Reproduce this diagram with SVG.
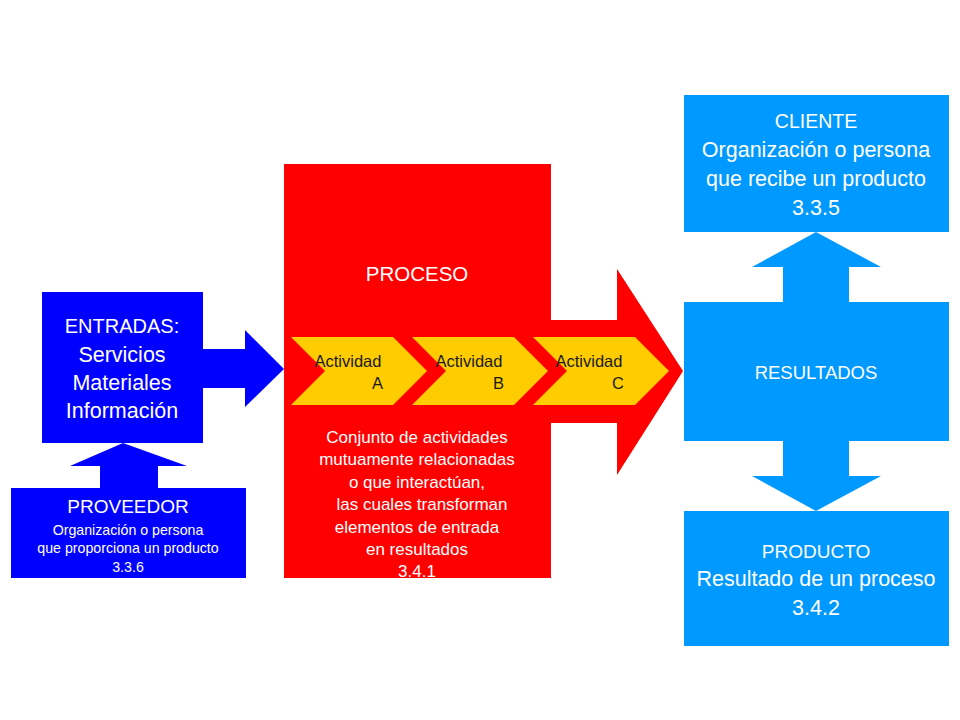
<svg xmlns="http://www.w3.org/2000/svg" width="960" height="720" viewBox="0 0 960 720">
<style>
text{font-family:"Liberation Sans",Arial,sans-serif;fill:#fff;text-anchor:middle}
.dk{fill:#1a1a1a;font-size:16.5px}
.blue{fill:#0000ff}
.lb{fill:#0099ff}
.red{fill:#ff0000}
.yel{fill:#ffcc00}
</style>
<rect width="960" height="720" fill="#fff"/>
<g id="connectors">
  <polygon class="blue" points="202,349 245,349 245,330 284,369 245,407 245,388 202,388"/>
  <polygon class="blue" points="100,489 100,466 70,466 123,443 187,466 158,466 158,489"/>
  <polygon class="lb" points="783,303 783,267 752,267 816,232 881,267 849,267 849,303"/>
  <polygon class="lb" points="783,440 783,476 752,476 816,511 881,476 849,476 849,440"/>
</g>
<g id="proceso">
  <rect class="red" x="284" y="164" width="267" height="414"/>
  <polygon class="red" points="550,320 617,320 617,269 683,371 617,475 617,423 550,423"/>
  <text x="417" y="281" font-size="20.5">PROCESO</text>
  <g font-size="17">
    <text x="417" y="443">Conjunto de actividades</text>
    <text x="417" y="465">mutuamente relacionadas</text>
    <text x="417" y="488">o que interactúan,</text>
    <text x="422" y="510">las cuales transforman</text>
    <text x="417" y="533">elementos de entrada</text>
    <text x="417" y="555">en resultados</text>
    <text x="417" y="577">3.4.1</text>
  </g>
</g>
<g id="actividadA">
  <polygon class="yel" points="291,337 393,337 427,371 393,405 291,405 325,371"/>
  <text class="dk" x="348" y="367">Actividad</text>
  <text class="dk" x="383" y="389" style="text-anchor:end">A</text>
</g>
<g id="actividadB">
  <polygon class="yel" points="412,337 514,337 548,371 514,405 412,405 446,371"/>
  <text class="dk" x="469" y="367">Actividad</text>
  <text class="dk" x="504" y="389" style="text-anchor:end">B</text>
</g>
<g id="actividadC">
  <polygon class="yel" points="533,337 635,337 669,371 635,405 533,405 567,371"/>
  <text class="dk" x="589" y="367">Actividad</text>
  <text class="dk" x="624" y="389" style="text-anchor:end">C</text>
</g>
<g id="entradas">
  <rect class="blue" x="42" y="292" width="161" height="151"/>
  <text x="122" y="333" font-size="20">ENTRADAS:</text>
  <text x="122" y="362" font-size="21.5">Servicios</text>
  <text x="122" y="390" font-size="21.5">Materiales</text>
  <text x="122" y="418" font-size="21.5">Información</text>
</g>
<g id="proveedor">
  <rect class="blue" x="11" y="488" width="235" height="90"/>
  <text x="128" y="513" font-size="19">PROVEEDOR</text>
  <text x="128" y="535" font-size="14.2">Organización o persona</text>
  <text x="128" y="553" font-size="14.2">que proporciona un producto</text>
  <text x="128" y="572" font-size="14.2">3.3.6</text>
</g>
<g id="cliente">
  <rect class="lb" x="684" y="95" width="265" height="137"/>
  <text x="816" y="128" font-size="19.5">CLIENTE</text>
  <text x="816" y="157" font-size="21.5">Organización o persona</text>
  <text x="816" y="186" font-size="21.5">que recibe un producto</text>
  <text x="816" y="215" font-size="21.5">3.3.5</text>
</g>
<g id="resultados">
  <rect class="lb" x="684" y="302" width="265" height="139"/>
  <text x="816" y="379" font-size="18.5">RESULTADOS</text>
</g>
<g id="producto">
  <rect class="lb" x="684" y="511" width="265" height="135"/>
  <text x="816" y="558" font-size="19">PRODUCTO</text>
  <text x="816" y="586" font-size="21.5">Resultado de un proceso</text>
  <text x="816" y="615" font-size="21.5">3.4.2</text>
</g>
</svg>
